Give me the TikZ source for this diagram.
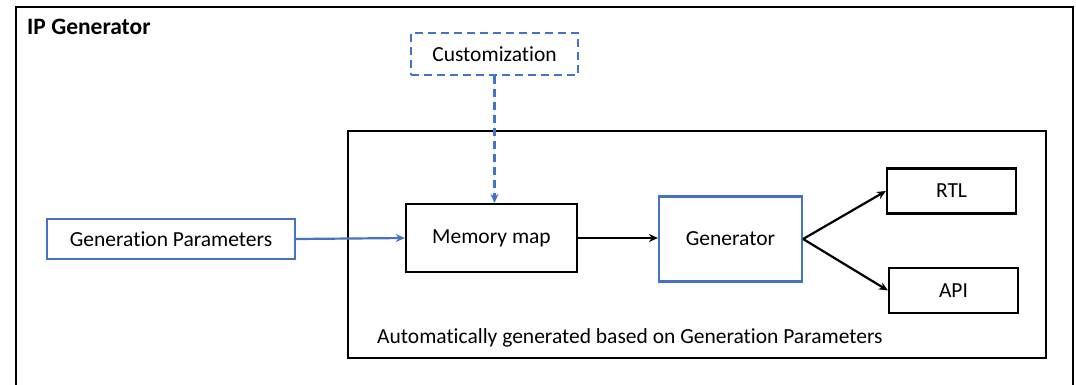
\documentclass[tikz,border=0pt]{standalone}
\usepackage{fontspec}
\setmainfont{Carlito}[Ligatures=NoCommon]
\usetikzlibrary{arrows.meta}
\definecolor{offblue}{HTML}{4472C4}
\begin{document}
\begin{tikzpicture}[x=1pt,y=-1pt,
  txt/.style={font=\fontsize{21.5}{24}\selectfont},
  box/.style={txt,draw=black,line width=2.2pt,inner sep=0pt},
  bluebox/.style={txt,draw=offblue,line width=2.2pt,inner sep=0pt},
  dashbox/.style={txt,draw=offblue,line width=2.2pt,dash pattern=on 8pt off 5pt,inner sep=0pt},
  arr/.style={line width=2.2pt,-{Stealth[length=9pt,width=8pt]}},
  lbl/.style={txt,inner sep=0pt,anchor=west}]
\useasboundingbox (0,0) rectangle (1076,384);
\begin{scope}
\clip (0,0) rectangle (1076,384);
\draw[line width=2.2pt] (16,7) rectangle (1073,400);
\end{scope}
\node[font=\fontsize{23.5}{26}\selectfont\bfseries,anchor=west,inner sep=0pt] (title) at (27,27) {IP Generator};
\draw[line width=2.2pt] (348,131) rectangle (1046,358);
\node[lbl] (auto) at (377,338) {Automatically generated based on Generation Parameters};
\node[dashbox,minimum width=167pt,minimum height=42pt] (cust) at (494.5,54) {Customization};
\node[bluebox,minimum width=248pt,minimum height=40pt] (gp) at (171,239) {Generation Parameters};
\node[box,minimum width=171pt,minimum height=68pt] (mm) at (491.5,238) {Memory map};
\node[bluebox,minimum width=143pt,minimum height=85pt] (gen) at (730.5,239) {Generator};
\node[box,minimum width=129pt,minimum height=45pt] (rtl) at (951.5,191) {RTL};
\node[box,minimum width=129pt,minimum height=45pt] (api) at (953.5,290.5) {API};
\draw[arr,draw=offblue,fill=offblue,dash pattern=on 8pt off 5pt] (cust.south) -- (cust.south |- mm.north);
\draw[arr,draw=offblue,fill=offblue] (gp.east) -- (mm.west);
\draw[arr] (mm.east) -- (mm.east -| gen.west);
\draw[arr] (gen.east) -- (rtl.west);
\draw[arr] (gen.east) -- (api.west);
\end{tikzpicture}
\end{document}
